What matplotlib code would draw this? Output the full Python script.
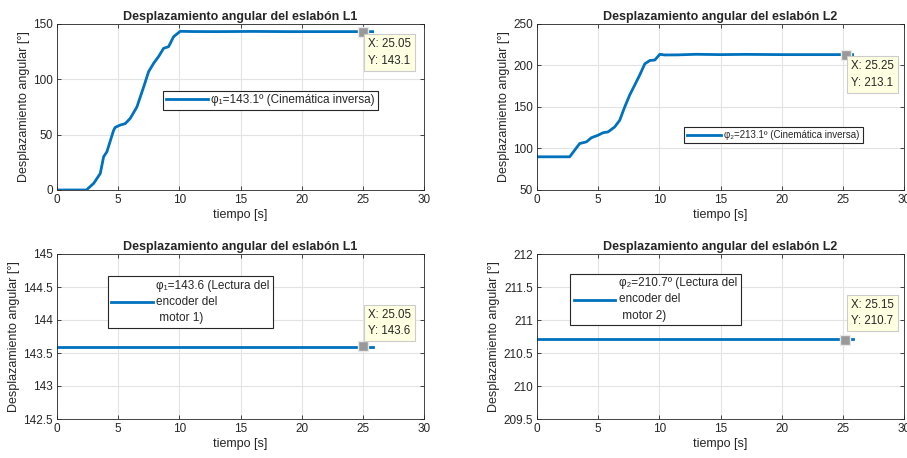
import matplotlib
matplotlib.use('Agg')
import matplotlib.pyplot as plt

plt.rcParams['font.family'] = ['Liberation Sans', 'DejaVu Sans']
plt.rcParams['text.color'] = '#262626'
plt.rcParams['axes.labelcolor'] = '#262626'
plt.rcParams['xtick.color'] = '#262626'
plt.rcParams['ytick.color'] = '#262626'

# datos
t_l1 = [0, 2.4, 3.0, 3.54, 3.81, 4.08, 4.63, 4.76, 5.17, 5.58, 5.99, 6.53, 7.08, 7.49,
        7.9, 8.3, 8.71, 9.12, 9.53, 10.07, 11, 13, 16, 19, 22, 25.05, 25.8]
phi1_ik = [0, 0, 6, 15, 30, 34.6, 54, 56.6, 58.7, 60, 64.8, 75, 93, 107,
           114.5, 120.5, 128, 129.5, 138.5, 143.4, 143.2, 143.1, 143.3, 143.1, 143.1, 143.1, 143.1]

t_l2 = [0, 2.67, 3.08, 3.49, 4.04, 4.45, 4.99, 5.4, 5.81, 6.35, 6.76, 7.17, 7.58, 7.99,
        8.4, 8.81, 9.22, 9.63, 10.04, 10.44, 11.5, 13, 15, 17, 20, 23, 25.25, 25.8]
phi2_ik = [90, 90, 98, 106, 108, 113, 116, 119, 120, 126, 134, 150, 164.5, 176.5,
           188.6, 202, 206, 206.6, 213.5, 212.7, 212.8, 213.5, 213.1, 213.4, 213.1, 213.1, 213.1, 213.1]

t_enc = [0, 25.8]
phi1_enc = [143.59, 143.59]
phi2_enc = [210.71, 210.71]

tips = [(25.05, 143.1), (25.25, 213.1), (25.05, 143.6), (25.15, 210.7)]

W, H = 907, 458
fig = plt.figure(figsize=(W / 100, H / 100), dpi=100)

def make_ax(l, t, r, b):
    return fig.add_axes([l / W, 1 - b / H, (r - l) / W, (b - t) / H])

axs = [make_ax(57, 24, 424, 190), make_ax(537, 24, 904, 190),
       make_ax(57, 254, 424, 419), make_ax(537, 254, 904, 419)]

azul = '#0072BD'
series = [(t_l1, phi1_ik, 'φ₁=143.1º (Cinemática inversa)', 'L1'),
          (t_l2, phi2_ik, 'φ₂=213.1º (Cinemática inversa)', 'L2'),
          (t_enc, phi1_enc, 'φ₁=143.6 (Lectura del\nencoder del\n motor 1)', 'L1'),
          (t_enc, phi2_enc, 'φ₂=210.7º (Lectura del\nencoder del\n motor 2)', 'L2')]
ylims = [(0, 150), (50, 250), (142.5, 145), (209.5, 212)]
yticks = [[0, 50, 100, 150], [50, 100, 150, 200, 250],
          [142.5, 143, 143.5, 144, 144.5, 145], [209.5, 210, 210.5, 211, 211.5, 212]]
ytlabels = [None, None, ['142.5', '143', '143.5', '144', '144.5', '145'],
            ['209.5', '210', '210.5', '211', '211.5', '212']]
tip_pos = [(25.42, 137.3), (25.67, 206.6), (25.42, 144.17), (25.67, 211.32)]
leg_loc = [(166, 91, 375, 110), (686, 127, 861, 143), (112, 276, 269, 328), (574, 273, 737, 326)]
leg_size = [8.5, 7, 8.5, 8.5]

for i, ax in enumerate(axs):
    t, y, lab, eslabon = series[i]
    ax.plot(t, y, color=azul, lw=2, label=lab)
    tx, ty = tips[i]
    ax.plot([tx], [ty], 's', color='#999999', mec='#E8E8E8', mew=1, ms=7, zorder=5)
    ax.text(tip_pos[i][0], tip_pos[i][1], f'X: {tx}\nY: {ty}', fontsize=8.3, va='top', ha='left',
            linespacing=1.5,
            bbox=dict(boxstyle='square,pad=0.35', fc='#FFFFE1', ec='#CCCCCC', lw=0.8), zorder=6)
    ax.set_xlim(0, 30)
    ax.set_ylim(*ylims[i])
    ax.set_xticks([0, 5, 10, 15, 20, 25, 30])
    ax.set_yticks(yticks[i])
    if ytlabels[i]:
        ax.set_yticklabels(ytlabels[i])
    ax.grid(True, color='#E3E3E3', lw=0.8)
    ax.set_axisbelow(True)
    ax.tick_params(direction='in', top=True, right=True, labelsize=8.5, length=3, width=0.6, pad=3)
    for s in ax.spines.values():
        s.set_color('#262626')
        s.set_linewidth(0.6)
    ax.set_title(f'Desplazamiento angular del eslabón {eslabon}', fontsize=9, fontweight='bold', pad=3)
    ax.set_xlabel('tiempo [s]', fontsize=9, labelpad=2)
    ax.set_ylabel('Desplazamiento angular [°]', fontsize=9, labelpad=2)
    l, tp, r, b = leg_loc[i]
    x0 = (l + r) / 2 / W
    y0 = 1 - (tp + b) / 2 / H
    leg = ax.legend(loc='center', bbox_to_anchor=(x0, y0), bbox_transform=fig.transFigure,
                    fontsize=leg_size[i], frameon=True, fancybox=False, handlelength=3.5,
                    handletextpad=0.3, borderpad=0.3, borderaxespad=0)
    for txt in leg.get_texts():
        txt.set_linespacing(1.45)
    leg.get_frame().set_edgecolor('#262626')
    leg.get_frame().set_linewidth(0.8)
    leg.get_frame().set_alpha(1)

fig.savefig('out.png', dpi=100)
